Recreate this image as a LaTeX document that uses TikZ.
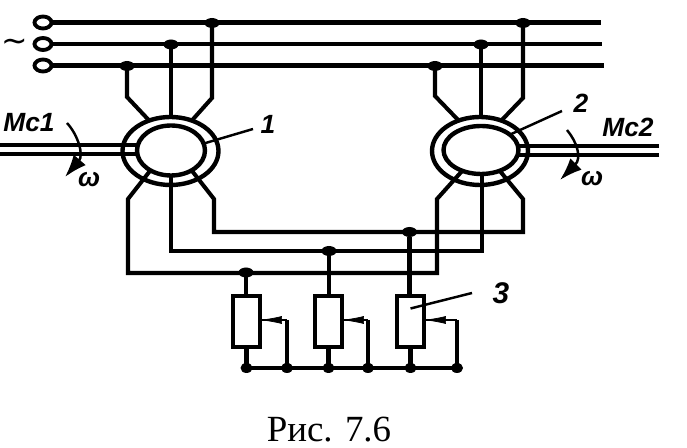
\documentclass[tikz,border=0pt]{standalone}
\usepackage{fontspec}
\setmainfont{Liberation Serif}
\newfontfamily\labelfont{Liberation Sans}
\newfontfamily\symfont{DejaVu Sans}
\usetikzlibrary{arrows.meta}
\usetikzlibrary{shapes.geometric}
\tikzset{
	wire/.style={line width=2.3pt, line join=miter},
	thinwire/.style={line width=1.4pt},
	terminal/.style={draw, ellipse, line width=2.2pt, inner sep=0, outer sep=0, minimum width=0.34cm, minimum height=0.24cm},
	junction/.style={fill, ellipse, inner sep=0, outer sep=0, minimum width=0.3cm, minimum height=0.2cm},
	ring/.style={draw, ellipse, line width=2.5pt, inner sep=0, outer sep=0},
	resistor/.style={draw, rectangle, line width=2.3pt, inner sep=0, outer sep=0, minimum width=0.54cm, minimum height=1.02cm},
	tag/.style={font=\labelfont\itshape\bfseries\fontsize{15}{15}\selectfont, inner sep=0},
}
\begin{document}
\begin{tikzpicture}[x=0.02cm, y=-0.02cm]
	\useasboundingbox (0,0) rectangle (687,448);
	% supply lines
	\foreach \n/\y/\xe in {1/23/601,2/44.5/602,3/66/604} {
		\node [terminal] (t\n) at (43,\y-0.5) {};
		\coordinate (e\n) at (\xe,\y);
		\draw [wire] (t\n) -- (t\n -| e\n);
	}
	\node (tilde) [font=\symfont\fontsize{18}{18}\selectfont, inner sep=0] at (15,45) {∼};
	% machines
	\node [ring, minimum width=1.92cm, minimum height=1.36cm] (m1out) at (170.5,151) {};
	\node [ring, minimum width=1.36cm, minimum height=1cm] (m1in) at (171,150.5) {};
	\node [ring, minimum width=1.92cm, minimum height=1.36cm] (m2out) at (480,151) {};
	\node [ring, minimum width=1.5cm, minimum height=0.96cm] (m2in) at (481,150) {};
	% junctions on the supply lines
	\node [junction] (a1) at (127,66) {};
	\node [junction] (b1) at (171,44.5) {};
	\node [junction] (c1) at (212,23) {};
	\node [junction] (a2) at (435,66) {};
	\node [junction] (b2) at (481,44.5) {};
	\node [junction] (c2) at (523,23) {};
	% upper windings
	\draw [wire] (a1) -- (127,97) -- (m1out.125);
	\draw [wire] (b1) -- (m1out.north -| b1);
	\draw [wire] (c1) -- (212,98) -- (m1out.55);
	\draw [wire] (a2) -- (435,96) -- (m2out.125);
	\draw [wire] (b2) -- (m2out.north -| b2);
	\draw [wire] (c2) -- (523,98) -- (m2out.55);
	% junctions to the resistors
	\node [junction] (j1) at (246,272.5) {};
	\node [junction] (j2) at (329,251) {};
	\node [junction] (j3) at (409.5,232) {};
	% lower windings
	\draw [wire] (m1in.224) -- (128,199) -- (128,273) -- (437,273) -- (437,199) -- (m2in.228);
	\draw [wire] (m1in.south) -- (171,251) -- (482,251) -- (m2in.south -| 482,251);
	\draw [wire] (m1in.-44) -- (214,199) -- (214,232) -- (523,232) -- (523,199) -- (m2in.-48);
	% resistors
	\coordinate (bus) at (0,368);
	\foreach \n/\x/\wx in {1/246.5/287,2/328.5/368,3/410.5/457} {
		\node [resistor] (r\n) at (\x,321.5) {};
		\coordinate (w\n) at (\wx,320);
		\draw [wire] (j\n) -- (r\n.north -| j\n);
		\draw [wire] (r\n.south) -- (r\n.south |- bus);
		\draw [thinwire] (r\n.east |- w\n) -- (w\n);
		\draw [wire] (w\n) -- (w\n |- bus);
		\draw [line width=0.4pt, {Latex[length=4.4mm,width=1.6mm]}-] (r\n.east |- w\n) -- (w\n);
	}
	\draw [wire] (r1.south |- bus) -- (w3 |- bus);
	\foreach \n in {1,2,3} {
		\node [junction, minimum width=0.24cm, minimum height=0.2cm] at (w\n |- bus) {};
		\node [junction, minimum width=0.24cm, minimum height=0.2cm] at (r\n.south |- bus) {};
	}
	% shafts
	\coordinate (s1) at (0,145);
	\coordinate (s2) at (0,154);
	\coordinate (s3) at (659,146);
	\coordinate (s4) at (659,155);
	\draw [wire] (s1) -- (137.5,145);
	\draw [wire] (s2) -- (137.5,154);
	\draw [wire] (s3) -- (517,146);
	\draw [wire] (s4) -- (517,155);
	% rotation arrows
	\draw [thinwire, -{Latex[length=4.5mm,width=3.2mm]}] (67,123) .. controls (78,135) and (84,155) .. (65,177);
	\draw [thinwire, -{Latex[length=4.5mm,width=3.2mm]}] (567,130) .. controls (577,142) and (582,158) .. (560,180);
	% labels
	\node [tag] (mc1) at (29,123) {Мс1};
	\node [tag] (mc2) at (628,127) {Мс2};
	\node [tag] (om1) at (89,180) {ω};
	\node [tag] (om2) at (592,179) {ω};
	\node [tag] (lab1) at (268,124) {1};
	\node [tag] (lab2) at (581,103) {2};
	\node [tag, font=\labelfont\itshape\bfseries\fontsize{17}{17}\selectfont] (lab3) at (501,293) {3};
	\coordinate (l1) at (253,129);
	\coordinate (l2) at (562,111);
	\coordinate (l3) at (472,293);
	\draw [thinwire] (m1in.12) -- (l1);
	\draw [thinwire] (m2in.28) -- (l2);
	\draw [thinwire] (r3.center) ++(0,-13) -- (l3);
	\node (cap) [font=\fontsize{21}{21}\selectfont, inner sep=0] at (329,430) {Рис. 7.6};
\end{tikzpicture}
\end{document}
